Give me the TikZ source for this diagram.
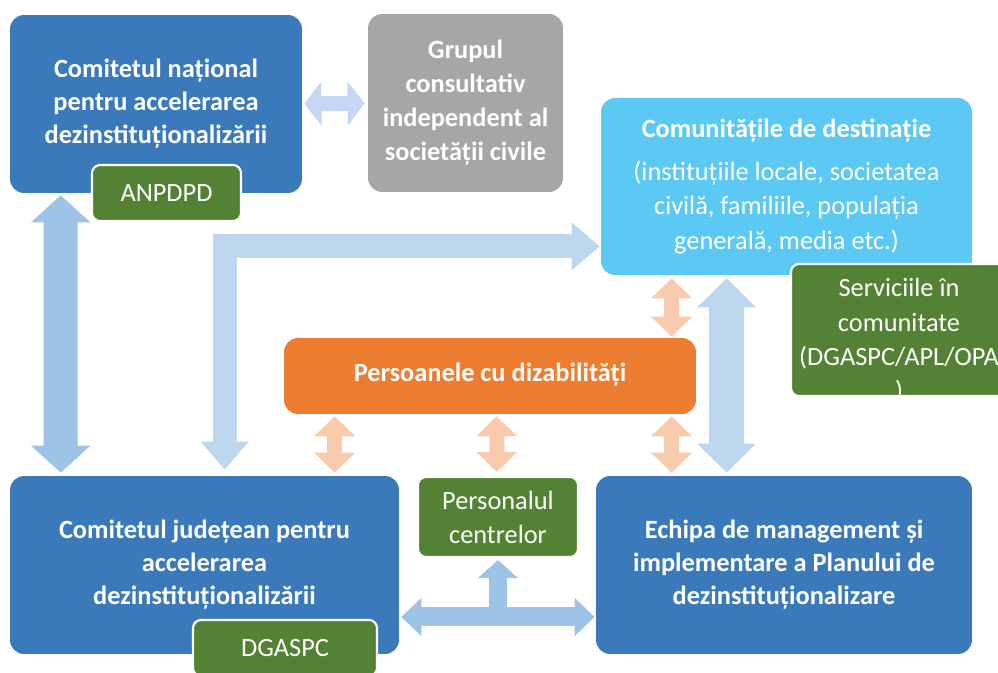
\documentclass[tikz,border=0pt]{standalone}
\usepackage{fontspec}
\setmainfont{Carlito}
\usepackage{tikz}
\usetikzlibrary{arrows.meta}
\definecolor{boxblue}{HTML}{3A7ABA}
\definecolor{boxgray}{HTML}{A6A6A6}
\definecolor{boxcyan}{HTML}{5BC9F4}
\definecolor{boxgreen}{HTML}{548235}
\definecolor{boxorange}{HTML}{ED7D31}
\definecolor{arrblue}{HTML}{9DC3E6}
\definecolor{arrpale}{HTML}{BDD7EE}
\definecolor{arrlav}{HTML}{C6D6F4}
\definecolor{arrorange}{HTML}{F8CBAD}
\tikzset{
  bigbox/.style={rounded corners=0.28cm, text=white, align=center, inner sep=0pt,
    font=\fontsize{15}{18.8}\selectfont\bfseries},
  grnbox/.style={fill=boxgreen, draw=white, line width=1.2pt, rounded corners=0.16cm,
    text=white, align=center, inner sep=0pt, font=\fontsize{15}{19.4}\selectfont},
  grntxt/.style={text=white, align=center, font=\fontsize{15}{19.6}\selectfont},
  dblarr/.style n args={3}{line width=#1,
    arrows={Triangle[width=#2,length=#3]-Triangle[width=#2,length=#3]}},
  onearr/.style n args={3}{line width=#1, arrows={-Triangle[width=#2,length=#3]}},
}
\begin{document}
\begin{tikzpicture}[x=0.02cm, y=-0.02cm]
  \useasboundingbox (0,0) rectangle (998,673);
  \clip (0,0) rectangle (998,673);

  % main boxes
  \node[bigbox, fill=boxblue, minimum width=5.84cm, minimum height=3.56cm] (nat) at (156,104)
    {Comitetul național\\pentru accelerarea\\dezinstituționalizării};
  \node[bigbox, fill=boxgray, minimum width=3.9cm, minimum height=3.56cm,
    font=\fontsize{15}{19.4}\selectfont\bfseries] (grup) at (465.5,103)
    {Grupul\\consultativ\\independent al\\societății civile};
  \node[bigbox, fill=boxcyan, minimum width=7.42cm, minimum height=3.54cm,
    font=\fontsize{15}{19.9}\selectfont] (com) at (786.5,186.5)
    {\textbf{Comunitățile de destinație}\\[0.16cm](instituțiile locale, societatea\\civilă, familiile, populația\\generală, media etc.)};
  \node[bigbox, fill=boxorange, minimum width=8.24cm, minimum height=1.52cm] (pers) at (490,376)
    {\raisebox{0.14cm}{Persoanele cu dizabilități}};
  \node[bigbox, fill=boxblue, minimum width=7.78cm, minimum height=3.56cm] (jud) at (204.5,565)
    {Comitetul județean pentru\\accelerarea\\dezinstituționalizării};
  \node[bigbox, fill=boxblue, minimum width=7.52cm, minimum height=3.56cm] (echipa) at (784,565)
    {Echipa de management și\\implementare a Planului de\\dezinstituționalizare};

  % green boxes
  \node[grnbox, minimum width=2.98cm, minimum height=1.12cm] (anpdpd) at (166.5,193) {ANPDPD};
  \node[grnbox, minimum width=4.32cm, minimum height=2.64cm] (serv) at (899,330) {};
  \node[grntxt] (servtxt) at ([yshift=-0.22cm]serv.center)
    {Serviciile în\\comunitate\\(DGASPC/APL/OPA\\)};
  \node[grnbox, minimum width=3.68cm, minimum height=1.12cm] (dgaspc) at (285,648) {DGASPC};
  \node[grnbox, minimum width=3.2cm, minimum height=1.6cm] (personal) at (498,517)
    {Personalul\\centrelor};

  % arrows
  \draw[arrblue, dblarr={0.68cm}{1.16cm}{0.54cm}]
    ([xshift=1.02cm, yshift=-0.04cm]nat.south west) -- ([xshift=1.02cm, yshift=0.06cm]jud.north west);
  \draw[arrlav, dblarr={0.3cm}{0.86cm}{0.34cm}]
    ([xshift=0.04cm]nat.east) -- ([xshift=-0.06cm]grup.west);
  \draw[arrpale, dblarr={0.48cm}{0.92cm}{0.56cm}]
    ([xshift=4.3cm, yshift=0.12cm]jud.north west) |- ([xshift=-0.02cm, yshift=0.58cm]com.south west);
  \draw[arrpale, dblarr={0.7cm}{1.14cm}{0.58cm}]
    ([xshift=2.62cm, yshift=0.06cm]echipa.north west) -- ([xshift=2.52cm, yshift=-0.06cm]com.south west);

  \draw[arrorange, dblarr={0.3cm}{0.8cm}{0.4cm}]
    ([xshift=1.42cm, yshift=-0.06cm]com.south west) -- ([xshift=7.76cm, yshift=0.02cm]pers.north west);
  \draw[arrorange, dblarr={0.3cm}{0.8cm}{0.4cm}]
    ([xshift=1.02cm, yshift=-0.04cm]pers.south west) -- ([xshift=6.5cm, yshift=0.06cm]jud.north west);
  \draw[arrorange, dblarr={0.3cm}{0.8cm}{0.4cm}]
    ([xshift=4.26cm, yshift=-0.04cm]pers.south west) -- ([xshift=-0.02cm, yshift=0.08cm]personal.north);
  \draw[arrorange, dblarr={0.3cm}{0.8cm}{0.4cm}]
    ([xshift=7.76cm, yshift=-0.04cm]pers.south west) -- ([xshift=1.52cm, yshift=0.06cm]echipa.north west);

  \coordinate (tee) at (498,617);
  \draw[arrblue, onearr={0.36cm}{0.78cm}{0.36cm}] (tee) -- ([yshift=-0.04cm]personal.south);
  \draw[arrblue, dblarr={0.38cm}{0.74cm}{0.4cm}]
    ([xshift=0.04cm, yshift=-1.04cm]jud.east) -- ([xshift=-0.02cm, yshift=-1.04cm]echipa.west);
\end{tikzpicture}
\end{document}
